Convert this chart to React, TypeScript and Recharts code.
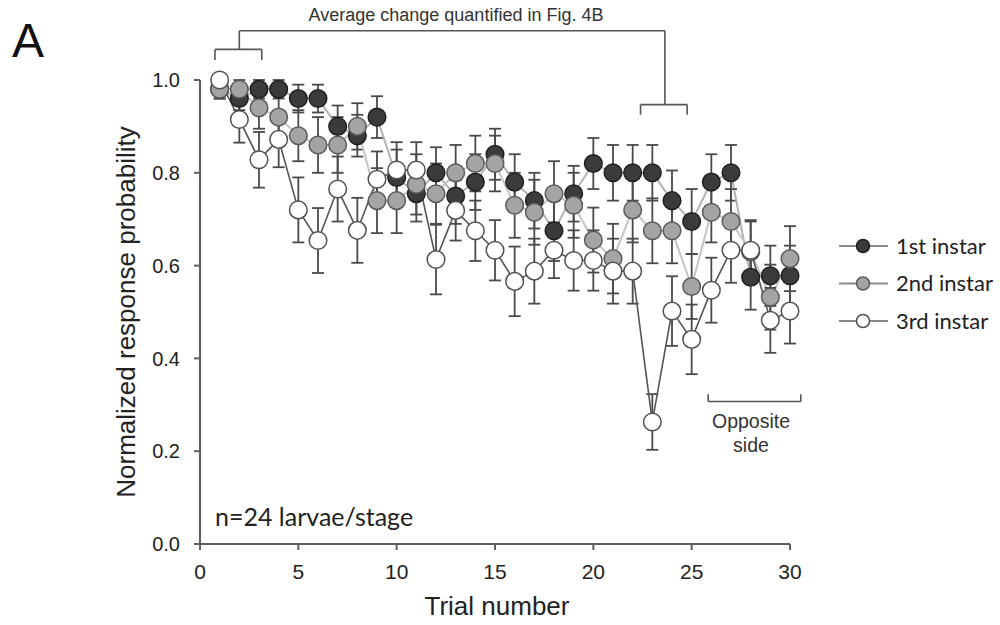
import React from 'react';
import { LineChart, Line, XAxis, YAxis, ErrorBar, ReferenceLine, Legend, Label } from 'recharts';

// ---- data ----
const trials = [1, 2, 3, 4, 5, 6, 7, 8, 9, 10, 11, 12, 13, 14, 15, 16, 17, 18, 19, 20, 21, 22, 23, 24, 25, 26, 27, 28, 29, 30];

const firstInstar = [0.98, 0.96, 0.98, 0.98, 0.96, 0.96, 0.9, 0.88, 0.92, 0.79, 0.755, 0.8, 0.75, 0.78, 0.84, 0.78, 0.74, 0.675, 0.755, 0.82, 0.8, 0.8, 0.8, 0.74, 0.695, 0.78, 0.8, 0.575, 0.578, 0.578];
const firstErr = [0.02, 0.025, 0.02, 0.02, 0.03, 0.03, 0.045, 0.045, 0.045, 0.06, 0.06, 0.055, 0.06, 0.06, 0.055, 0.06, 0.06, 0.065, 0.06, 0.055, 0.06, 0.06, 0.06, 0.065, 0.07, 0.06, 0.06, 0.07, 0.065, 0.065];

const secondInstar = [0.98, 0.98, 0.94, 0.92, 0.88, 0.86, 0.86, 0.9, 0.74, 0.74, 0.775, 0.755, 0.8, 0.82, 0.82, 0.73, 0.715, 0.755, 0.73, 0.655, 0.615, 0.72, 0.675, 0.675, 0.555, 0.715, 0.695, 0.63, 0.532, 0.615];
const secondErr = [0.02, 0.02, 0.045, 0.05, 0.055, 0.06, 0.06, 0.05, 0.07, 0.07, 0.065, 0.065, 0.06, 0.06, 0.06, 0.07, 0.07, 0.07, 0.07, 0.07, 0.075, 0.07, 0.07, 0.07, 0.07, 0.065, 0.07, 0.065, 0.07, 0.07];

const thirdInstar = [1.0, 0.915, 0.828, 0.872, 0.72, 0.654, 0.765, 0.676, 0.786, 0.806, 0.806, 0.613, 0.719, 0.675, 0.633, 0.566, 0.588, 0.633, 0.611, 0.611, 0.588, 0.588, 0.263, 0.502, 0.441, 0.547, 0.633, 0.633, 0.482, 0.502];
const thirdErr = [0.0, 0.05, 0.06, 0.06, 0.07, 0.07, 0.07, 0.07, 0.06, 0.06, 0.06, 0.075, 0.065, 0.065, 0.065, 0.075, 0.07, 0.06, 0.065, 0.065, 0.07, 0.07, 0.06, 0.075, 0.075, 0.07, 0.07, 0.065, 0.07, 0.07];

const seriesNames = ['1st instar', '2nd instar', '3rd instar'];
const xTicks = [0, 5, 10, 15, 20, 25, 30];
const yTicks = [0, 0.2, 0.4, 0.6, 0.8, 1.0];

const data = trials.map((t, i) => ({
  trial: t,
  first: firstInstar[i],
  firstErr: firstErr[i],
  second: secondInstar[i],
  secondErr: secondErr[i],
  third: thirdInstar[i],
  thirdErr: thirdErr[i],
}));

// ---- styles ----
const series = [
  { key: 'first', err: 'firstErr', name: seriesNames[0], line: '#b3b3b3', lineWidth: 2, fill: '#3b3b3b', stroke: '#1f1f1f' },
  { key: 'second', err: 'secondErr', name: seriesNames[1], line: '#c4c4c4', lineWidth: 2, fill: '#a4a4a4', stroke: '#5a5a5a' },
  { key: 'third', err: 'thirdErr', name: seriesNames[2], line: '#555555', lineWidth: 1.6, fill: '#ffffff', stroke: '#505050' },
];

// annotation brackets (data coordinates)
const brackets: { a: [number, number]; b: [number, number] }[] = [
  { a: [2.0, 1.106], b: [23.64, 1.106] },
  { a: [2.0, 1.106], b: [2.0, 1.066] },
  { a: [23.64, 1.106], b: [23.64, 0.947] },
  { a: [0.76, 1.066], b: [3.14, 1.066] },
  { a: [0.76, 1.066], b: [0.76, 1.043] },
  { a: [3.14, 1.066], b: [3.14, 1.043] },
  { a: [22.4, 0.947], b: [24.77, 0.947] },
  { a: [22.4, 0.947], b: [22.4, 0.925] },
  { a: [24.77, 0.947], b: [24.77, 0.925] },
  { a: [25.84, 0.307], b: [30.55, 0.307] },
  { a: [25.84, 0.307], b: [25.84, 0.323] },
  { a: [30.55, 0.307], b: [30.55, 0.323] },
];

const AX = '#5e5e5e';
const SANS = '"Liberation Sans", Arial, sans-serif';
const HUM = 'Lato, "Open Sans", sans-serif';

const renderLegend = () => (
  <svg width={170} height={112}>
    {series.map((s, i) => (
      <g key={s.key} transform={`translate(0, ${18 + i * 37.5})`}>
        <line x1={2} x2={51} y1={0} y2={0} stroke="#8a8a8a" strokeWidth={2} />
        <circle cx={26} cy={0} r={6.5} fill={s.fill} stroke={s.stroke} strokeWidth={1.5} />
        <text x={59} y={0} dy="0.36em" fontFamily={HUM} fontSize={22} fill="#222">
          {s.name}
        </text>
      </g>
    ))}
  </svg>
);

export default function App() {
  return (
    <div style={{ position: 'absolute', left: 0, top: 0, width: 1000, height: 625, background: '#fff' }}>
      <LineChart width={1000} height={625} data={data} margin={{ top: 80, right: 210, bottom: 41, left: 120 }}>
        <XAxis
          type="number"
          dataKey="trial"
          domain={[0, 30]}
          ticks={xTicks}
          height={40}
          tickSize={6}
          tickMargin={14}
          stroke={AX}
          strokeWidth={2}
          tick={{ fontSize: 21, fill: '#222', fontFamily: SANS }}
        >
          <Label
            content={(p: any) => {
              const vb = p.viewBox || {};
              return (
                <text x={vb.x + vb.width / 2 + 2} y={615} textAnchor="middle" fontFamily={SANS} fontSize={26} fill="#222">
                  Trial number
                </text>
              );
            }}
          />
        </XAxis>
        <YAxis
          type="number"
          domain={[0, 1]}
          ticks={yTicks}
          width={80}
          tickSize={6}
          tickMargin={14}
          stroke={AX}
          strokeWidth={2}
          tickFormatter={(v: number) => v.toFixed(1)}
          tick={{ fontSize: 20, fill: '#222', fontFamily: SANS }}
        >
          <Label
            content={(p: any) => {
              const vb = p.viewBox || {};
              const cy = vb.y + vb.height / 2;
              return (
                <text transform={`translate(135, ${cy}) rotate(-90)`} textAnchor="middle" fontFamily={SANS} fontSize={26} fill="#222">
                  Normalized response probability
                </text>
              );
            }}
          />
        </YAxis>
        {brackets.map((b, i) => (
          <ReferenceLine
            key={'br' + i}
            segment={[{ x: b.a[0], y: b.a[1] }, { x: b.b[0], y: b.b[1] }]}
            stroke="#555"
            strokeWidth={1.6}
            ifOverflow="visible"
          />
        ))}
        {series.map((s) => (
          <Line
            key={s.key}
            dataKey={s.key}
            name={s.name}
            type="linear"
            stroke={s.line}
            strokeWidth={s.lineWidth}
            isAnimationActive={false}
            dot={{ r: 8.8, fill: s.fill, stroke: s.stroke, strokeWidth: 1.5, fillOpacity: 1 }}
            activeDot={false}
          >
            <ErrorBar dataKey={s.err} direction="y" width={6} stroke="#4a4a4a" strokeWidth={1.8} />
          </Line>
        ))}
        <Legend
          layout="vertical"
          align="center"
          verticalAlign="middle"
          content={renderLegend}
          wrapperStyle={{ position: 'absolute', left: 837, top: 228, width: 170, height: 112 }}
        />
      </LineChart>
      <svg width={1000} height={625} style={{ position: 'absolute', left: 0, top: 0, pointerEvents: 'none' }}>
        <text x={12} y={57} fontFamily={SANS} fontSize={48} fill="#111">A</text>
        <text x={456} y={20.5} textAnchor="middle" fontFamily={SANS} fontSize={18} fill="#333">
          Average change quantified in Fig. 4B
        </text>
        <text x={751} y={428} textAnchor="middle" fontFamily={SANS} fontSize={19.5} fill="#333">Opposite</text>
        <text x={751} y={452} textAnchor="middle" fontFamily={SANS} fontSize={19.5} fill="#333">side</text>
        <text x={215} y={526} fontFamily={HUM} fontSize={25} fill="#222">n=24 larvae/stage</text>
      </svg>
    </div>
  );
}
